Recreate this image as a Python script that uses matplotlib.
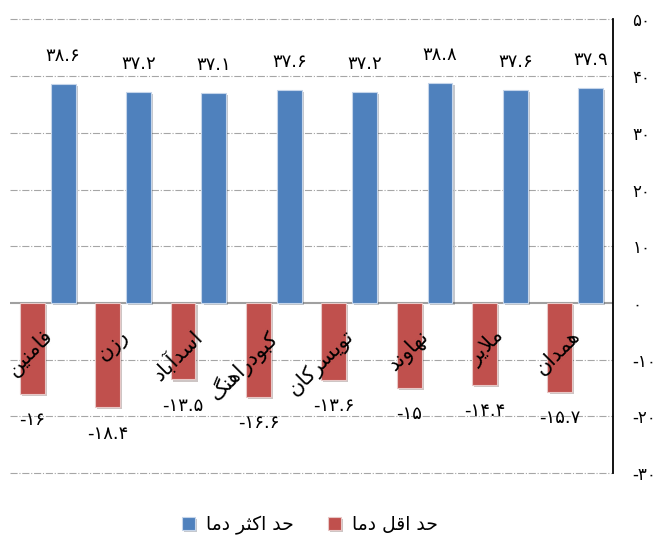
import matplotlib
matplotlib.use('Agg')
import matplotlib.pyplot as plt
import matplotlib.patheffects as pe
import numpy as np

cities = ['فامنین', 'رزن', 'اسدآباد', 'کبودراهنگ', 'تویسرکان', 'نهاوند', 'ملایر', 'همدان']
t_min = [-16, -18.4, -13.5, -16.6, -13.6, -15, -14.4, -15.7]
t_max = [38.6, 37.2, 37.1, 37.6, 37.2, 38.8, 37.6, 37.9]
yticks = [-30, -20, -10, 0, 10, 20, 30, 40, 50]
lbl_max = 'حد اکثر دما'
lbl_min = 'حد اقل دما'

# matplotlib 3.10 has no arabic shaping, so pick presentation forms by hand
# letter: (isolated, final, initial, medial)
FORMS = {
    'ا': ('\uFE8D', '\uFE8E', None, None),
    'آ': ('\uFE81', '\uFE82', None, None),
    'ب': ('\uFE8F', '\uFE90', '\uFE91', '\uFE92'),
    'ت': ('\uFE95', '\uFE96', '\uFE97', '\uFE98'),
    'ث': ('\uFE99', '\uFE9A', '\uFE9B', '\uFE9C'),
    'ح': ('\uFEA1', '\uFEA2', '\uFEA3', '\uFEA4'),
    'د': ('\uFEA9', '\uFEAA', None, None),
    'ر': ('\uFEAD', '\uFEAE', None, None),
    'ز': ('\uFEAF', '\uFEB0', None, None),
    'س': ('\uFEB1', '\uFEB2', '\uFEB3', '\uFEB4'),
    'ف': ('\uFED1', '\uFED2', '\uFED3', '\uFED4'),
    'ق': ('\uFED5', '\uFED6', '\uFED7', '\uFED8'),
    'ل': ('\uFEDD', '\uFEDE', '\uFEDF', '\uFEE0'),
    'م': ('\uFEE1', '\uFEE2', '\uFEE3', '\uFEE4'),
    'ن': ('\uFEE5', '\uFEE6', '\uFEE7', '\uFEE8'),
    'ه': ('\uFEE9', '\uFEEA', '\uFEEB', '\uFEEC'),
    'و': ('\uFEED', '\uFEEE', None, None),
    'ی': ('\uFBFC', '\uFBFD', '\uFBFE', '\uFBFF'),
    'ک': ('\uFB8E', '\uFB8F', '\uFB90', '\uFB91'),
    'گ': ('\uFB92', '\uFB93', '\uFB94', '\uFB95'),
}
LAMALEF = {'ا': ('\uFEFB', '\uFEFC'), 'آ': ('\uFEF5', '\uFEF6')}


def joins_next(ch):
    return ch in FORMS and FORMS[ch][2] is not None


def fa(s):
    out = []
    i = 0
    while i < len(s):
        c = s[i]
        if c not in FORMS:
            out.append(c)
            i += 1
            continue
        prev = joins_next(s[i - 1]) if i > 0 else False
        if c == 'ل' and i + 1 < len(s) and s[i + 1] in LAMALEF:
            out.append(LAMALEF[s[i + 1]][1 if prev else 0])
            i += 2
            continue
        nxt = i + 1 < len(s) and s[i + 1] in FORMS
        iso, fin, ini, med = FORMS[c]
        if ini is None:
            out.append(fin if prev else iso)
        elif prev and nxt:
            out.append(med)
        elif prev:
            out.append(fin)
        elif nxt:
            out.append(ini)
        else:
            out.append(iso)
        i += 1
    return ''.join(out)[::-1]


def fnum(v):
    s = ('%g' % v)
    return s.translate(str.maketrans('0123456789', '۰۱۲۳۴۵۶۷۸۹'))


plt.rcParams['font.family'] = ['DejaVu Sans']

fig = plt.figure(figsize=(6.64, 5.41), dpi=100)
ax = fig.add_axes([0.0151, 0.1257, 0.9081, 0.8383])

x = np.arange(len(cities))
w = 0.33
shadow = [pe.SimplePatchShadow(offset=(1.5, -1.5), alpha=0.25), pe.Normal()]
b_min = ax.bar(x - 0.205, t_min, w, color='#C0504D', edgecolor='#E8C8C7', linewidth=0.8,
               zorder=3, label=fa(lbl_min))
b_max = ax.bar(x + 0.205, t_max, w, color='#4F81BD', edgecolor='#C5D5EA', linewidth=0.8,
               zorder=3, label=fa(lbl_max))
for b in list(b_min) + list(b_max):
    b.set_path_effects(shadow)

for i in range(len(cities)):
    ax.annotate(fnum(t_max[i]), (x[i] + 0.205, t_max[i]), xytext=(0, 20), textcoords='offset points',
                ha='center', va='center', fontsize=13)
    ax.annotate(fnum(t_min[i]), (x[i] - 0.205, t_min[i]), xytext=(0, -19), textcoords='offset points',
                ha='center', va='center', fontsize=13)
    ax.text(x[i] + 0.12, -4.0, fa(cities[i]), rotation=45, ha='right', va='top',
            fontsize=15, zorder=4)

ax.set_xlim(-0.5, 7.5)
ax.set_ylim(-30, 50)
ax.set_yticks(yticks)
ax.set_yticklabels([fnum(t) for t in yticks], fontsize=12)
ax.yaxis.tick_right()
ax.tick_params(axis='y', length=0, pad=14)
ax.set_xticks([])

for t in yticks:
    if t != 0:
        ax.axhline(t, color='#A6A6A6', linestyle='-.', linewidth=0.8, zorder=1, clip_on=False)
ax.axhline(0, color='#A0A0A0', linewidth=1.5, zorder=2)

for s in ['top', 'left', 'bottom']:
    ax.spines[s].set_visible(False)
ax.spines['right'].set_color('black')
ax.spines['right'].set_linewidth(1.3)

ax.legend(handles=[b_max, b_min], loc='center', bbox_to_anchor=(0.467, 0.03),
          bbox_transform=fig.transFigure, ncol=2, frameon=False, fontsize=13.5,
          handlelength=0.7, handleheight=0.7, handletextpad=0.6, columnspacing=1.8)

fig.savefig('out.png', dpi=100)
